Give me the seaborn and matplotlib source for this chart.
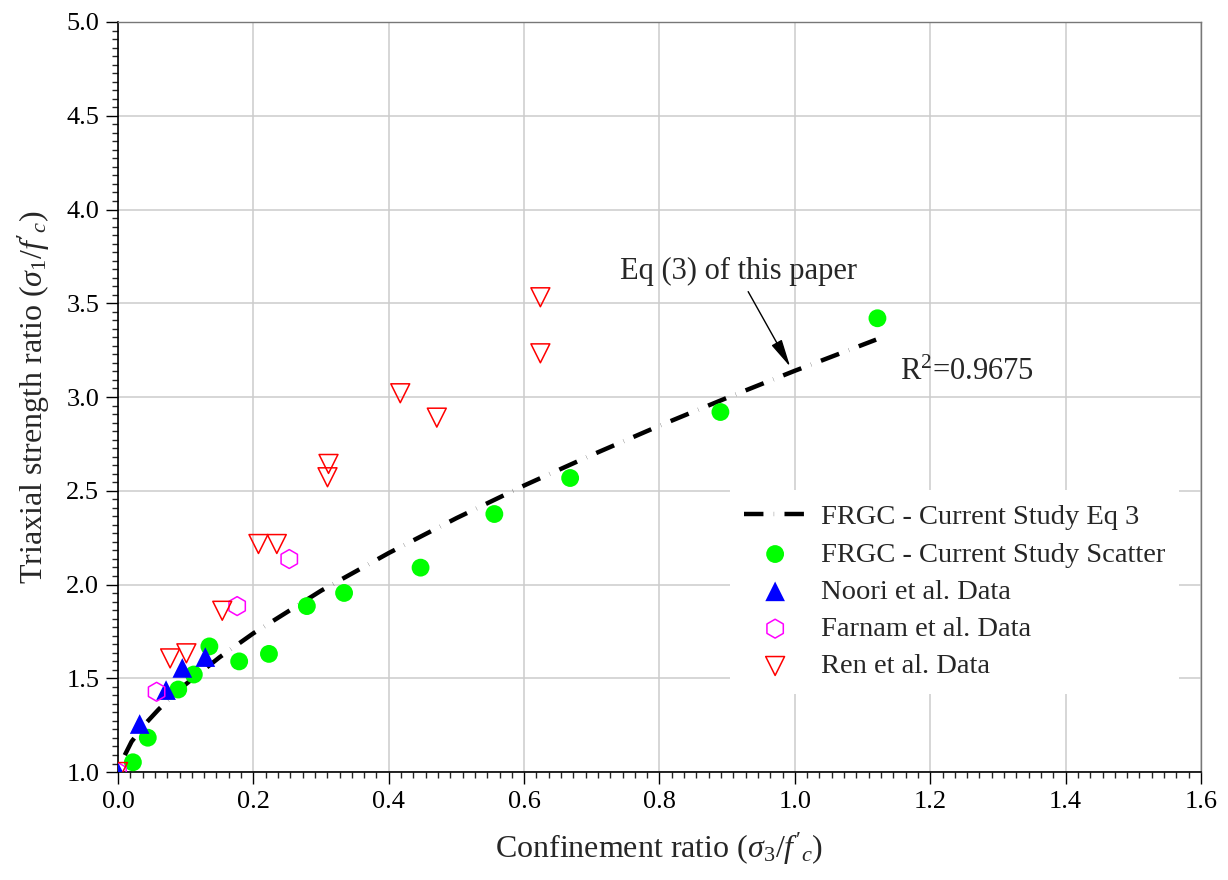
import numpy as np
import pandas as pd
import matplotlib
matplotlib.use("Agg")
import matplotlib.pyplot as plt
from matplotlib.ticker import MultipleLocator, AutoMinorLocator, FormatStrFormatter
import seaborn as sns

# ---------------- data ----------------
eq_x = [0.01, 0.02, 0.04, 0.06, 0.08, 0.10, 0.15, 0.20, 0.30, 0.40, 0.50,
        0.60, 0.70, 0.80, 0.90, 1.00, 1.12]
eq_y = [1.09, 1.162, 1.256, 1.334, 1.404, 1.468, 1.612, 1.740, 1.967, 2.168,
        2.354, 2.528, 2.691, 2.847, 2.996, 3.140, 3.306]

frgc_x = [0.022, 0.044, 0.089, 0.112, 0.135, 0.179, 0.223, 0.279, 0.334,
          0.447, 0.556, 0.668, 0.890, 1.122]
frgc_y = [1.052, 1.183, 1.44, 1.52, 1.67, 1.59, 1.63, 1.885, 1.955,
          2.09, 2.376, 2.568, 2.92, 3.42]

noori_x = [0.0, 0.032, 0.071, 0.095, 0.129]
noori_y = [1.0, 1.256, 1.437, 1.555, 1.613]

farnam_x = [0.0, 0.057, 0.176, 0.253]
farnam_y = [1.0, 1.428, 1.885, 2.136]

ren_x = [0.0, 0.077, 0.101, 0.154, 0.2075, 0.2346, 0.3095, 0.311, 0.417,
         0.471, 0.624, 0.624]
ren_y = [1.0, 1.606, 1.633, 1.86, 2.216, 2.216, 2.572, 2.643, 3.02,
         2.89, 3.233, 3.532]

labels = ["FRGC - Current Study Eq 3", "FRGC - Current Study Scatter",
          "Noori et al. Data", "Farnam et al. Data", "Ren et al. Data"]

x_ticks = [0.0, 0.2, 0.4, 0.6, 0.8, 1.0, 1.2, 1.4, 1.6]
y_ticks = [1.0, 1.5, 2.0, 2.5, 3.0, 3.5, 4.0, 4.5, 5.0]

# ---------------- style ----------------
sns.set_style("ticks")
plt.rcParams["font.family"] = ["Liberation Serif", "DejaVu Serif"]
plt.rcParams["mathtext.fontset"] = "custom"
plt.rcParams["mathtext.rm"] = "Liberation Serif"
plt.rcParams["mathtext.it"] = "Liberation Serif:italic"
plt.rcParams["mathtext.bf"] = "Liberation Serif:bold"
plt.rcParams["lines.scale_dashes"] = False

fig = plt.figure(figsize=(12.28, 8.8), dpi=100)
ax = fig.add_axes([0.0961, 0.1227, 0.8819, 0.8523])

# fitted equation line
sns.lineplot(x=eq_x, y=eq_y, ax=ax, color="black", linewidth=3.2,
             estimator=None, sort=False, label=labels[0], zorder=2)
ax.lines[-1].set_dashes((14.0, 7.5, 0.15, 7.5))
ax.lines[-1].set_dash_capstyle("butt")

sns.scatterplot(x=frgc_x, y=frgc_y, ax=ax, marker="o", s=165,
                color="#00FF00", edgecolor="none", label=labels[1], zorder=3)
sns.scatterplot(x=noori_x, y=noori_y, ax=ax, marker="^", s=200,
                color="#0000FF", edgecolor="none", label=labels[2], zorder=3)
sns.scatterplot(x=farnam_x, y=farnam_y, ax=ax, marker="h", s=185,
                facecolors="none", edgecolor="#FF00FF", linewidth=1.1,
                label=labels[3], zorder=3)
sns.scatterplot(x=ren_x, y=ren_y, ax=ax, marker="v", s=185,
                facecolors="none", edgecolor="#FF0000", linewidth=1.1,
                label=labels[4], zorder=3)

# axes limits / ticks
ax.set_xlim(x_ticks[0], x_ticks[-1])
ax.set_ylim(y_ticks[0], y_ticks[-1])
ax.set_xticks(x_ticks)
ax.set_yticks(y_ticks)
ax.xaxis.set_minor_locator(AutoMinorLocator(11))
ax.yaxis.set_minor_locator(AutoMinorLocator(11))
ax.xaxis.set_major_formatter(FormatStrFormatter("%.1f"))
ax.yaxis.set_major_formatter(FormatStrFormatter("%.1f"))
ax.tick_params(axis="both", which="major", direction="out", length=8.5,
               width=1.0, labelsize=19, colors="black", pad=5)
ax.tick_params(axis="both", which="minor", direction="out", length=4.3,
               width=1.0)
ax.tick_params(top=False, right=False, which="both")

ax.grid(True, which="major", color="#cccccc", linewidth=1.1, zorder=0)
ax.set_axisbelow(True)

for side in ["left", "bottom"]:
    ax.spines[side].set_color("black")
    ax.spines[side].set_linewidth(1.2)
for side in ["top", "right"]:
    ax.spines[side].set_color("#777777")
    ax.spines[side].set_linewidth(1.0)

ax.set_xlabel(r"Confinement ratio ($\sigma_3/f'_c$)", fontsize=23, labelpad=13)
ax.set_ylabel(r"Triaxial strength ratio ($\sigma_1/f'_c$)", fontsize=23,
              labelpad=10)

# annotation
ax.text(0.742, 3.629, "Eq (3) of this paper", fontsize=22, ha="left",
        va="baseline")
ax.annotate("", xy=(0.993, 3.162), xytext=(0.931, 3.562),
            arrowprops=dict(arrowstyle="-|>,head_length=0.85,head_width=0.18",
                            color="black", lw=1.0, shrinkA=0, shrinkB=0,
                            mutation_scale=20))
ax.text(1.156, 3.091, r"R$^2$=0.9675", fontsize=22, ha="left",
        va="baseline")

# legend
leg = ax.legend(loc="upper left", bbox_to_anchor=(0.5647, 0.376),
                borderaxespad=0, fontsize=20.5, frameon=True, fancybox=False,
                framealpha=1.0, facecolor="white", edgecolor="none",
                handlelength=2.2, handletextpad=0.5, labelspacing=0.4,
                borderpad=0.5, scatterpoints=1)

fig.savefig("out.png", dpi=100)
